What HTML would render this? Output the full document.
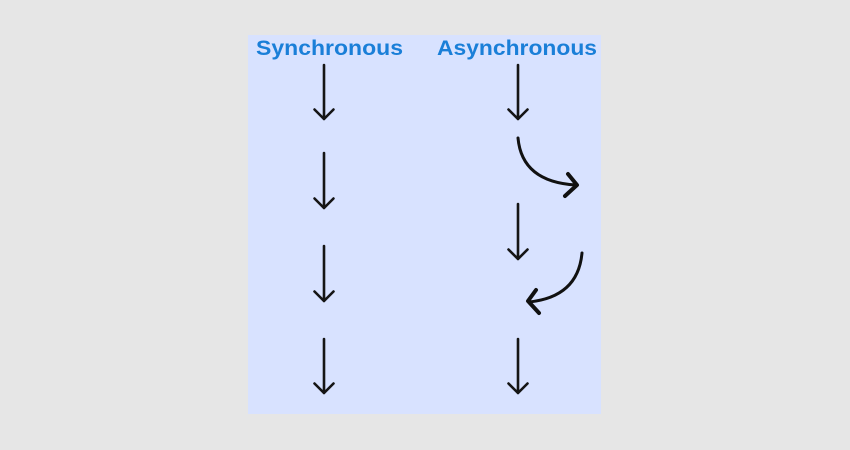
<!DOCTYPE html>
<html><head><meta charset="utf-8"><style>
html,body{margin:0;padding:0;background:#e6e6e6;}
svg{display:block;}
</style></head><body>
<svg width="850" height="450" viewBox="0 0 850 450" xmlns="http://www.w3.org/2000/svg">
<rect x="0" y="0" width="850" height="450" fill="#e6e6e6"/>
<rect x="248" y="35" width="353" height="379" fill="#d8e2ff"/>
<g font-family="Liberation Sans, sans-serif" font-weight="bold" font-size="21" fill="#1a7fd8">
<text x="256" y="55" textLength="147" lengthAdjust="spacingAndGlyphs">Synchronous</text>
<text x="437" y="55" textLength="160" lengthAdjust="spacingAndGlyphs">Asynchronous</text>
</g>
<g stroke="#151515" stroke-width="2.6" fill="none" stroke-linecap="round" stroke-linejoin="round">
<path d="M324 65V119M314.5 109.5L324 119L333.5 109.5"/>
<path d="M324 153V208M314.5 198.5L324 208L333.5 198.5"/>
<path d="M324 246V301M314.5 291.5L324 301L333.5 291.5"/>
<path d="M324 339V393M314.5 383.5L324 393L333.5 383.5"/>
<path d="M518 65V119M508.5 109.5L518 119L527.5 109.5"/>
<path d="M518 204V259M508.5 249.5L518 259L527.5 249.5"/>
<path d="M518 339V393M508.5 383.5L518 393L527.5 383.5"/>
</g>
<g stroke="#111" fill="none" stroke-linecap="round" stroke-linejoin="round">
<path d="M518 138Q522 182 576 185" stroke-width="3"/>
<path d="M568 174L577 185L565 196" stroke-width="4"/>
<path d="M582 253Q578 297 529 302" stroke-width="3"/>
<path d="M536 290L528 301L539 313" stroke-width="4"/>
</g>
</svg>
</body></html>
